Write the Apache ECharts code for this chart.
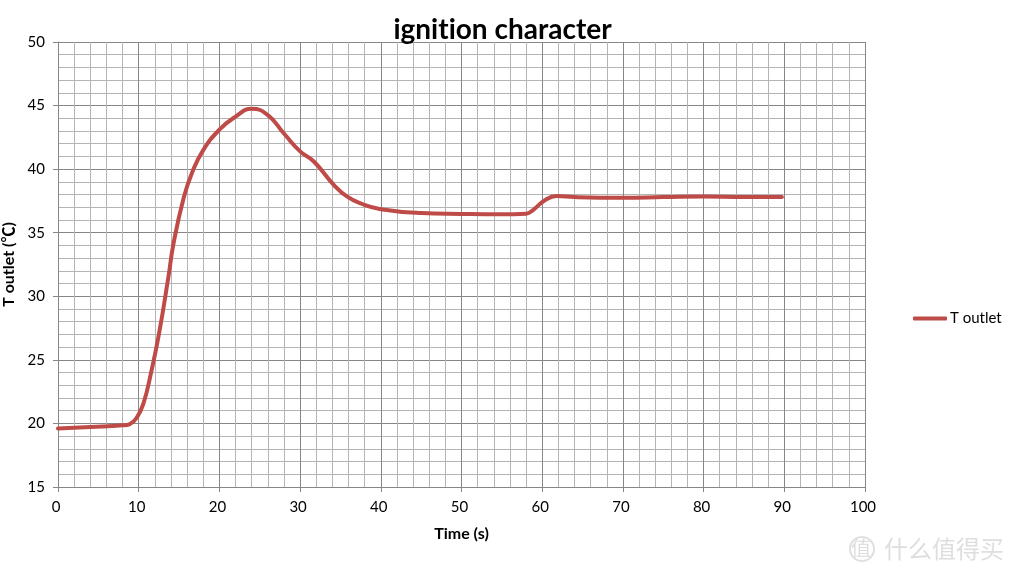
<!DOCTYPE html>
<html><head><meta charset="utf-8">
<style>html,body{margin:0;padding:0;background:#fff}#c{width:1013px;height:575px}</style>
<script src="https://cdn.jsdelivr.net/npm/echarts@6/dist/echarts.min.js"></script>
</head><body><div id="c"></div>
<script>
const seriesName = 'T outlet';
const timeValues = [0,4,8,8.9,9.8,10.6,11.5,12.5,13.7,14.3,15.6,16.6,18,20,22,24,26,28,30,31.7,34.2,35.8,37.5,40,45,50,55,58,58.9,60.2,61.8,64,70,75,80,85,89.7];
const outletValues = [19.6,19.72,19.85,19.95,20.5,21.6,23.9,27.0,31.6,34.1,37.8,39.7,41.5,43.1,44.13,44.75,44.25,42.8,41.4,40.6,38.75,37.85,37.3,36.85,36.55,36.48,36.45,36.5,36.8,37.5,37.88,37.8,37.75,37.8,37.85,37.8,37.8];
const chartTitle = 'ignition character';
const xAxisName = 'Time (s)';
const yAxisName = 'T outlet (℃)';
const watermark = '什么值得买';
const font = 'Lato';
// keep the letters separate (no "ti" ligature), as in the reference's typeface
const baseFillText = CanvasRenderingContext2D.prototype.fillText;
CanvasRenderingContext2D.prototype.fillText = function(){ this.textRendering='optimizeSpeed'; return baseFillText.apply(this,arguments); };
const chart = echarts.init(document.getElementById('c'), null, {renderer:'canvas'});
const points = timeValues.map((t,i)=>[t,outletValues[i]]);
chart.setOption({
  animation:false,
  backgroundColor:'#fff',
  title:{text:chartTitle,left:497.5,top:11,textAlign:'center',textStyle:{fontFamily:font,fontSize:28,fontWeight:'bold',color:'#000'}},
  legend:{show:true,left:908,top:306,itemWidth:34,itemHeight:4,itemGap:0,icon:'roundRect',
    textStyle:{fontFamily:font,fontSize:15,color:'#000',padding:[0,0,0,-2]},data:[seriesName]},
  grid:{left:58,right:148,top:42,bottom:88,containLabel:false,outerBoundsMode:'none'},
  xAxis:{type:'value',min:0,max:100,interval:10,name:xAxisName,nameLocation:'middle',nameGap:39,
    nameTextStyle:{fontFamily:font,fontSize:16,fontWeight:'bold',color:'#000'},
    axisLine:{show:true,onZero:false,lineStyle:{color:'#868686',width:1}},
    axisTick:{show:true,length:5,inside:false,lineStyle:{color:'#868686'}},
    axisLabel:{fontFamily:font,fontSize:15,color:'#000',margin:13,padding:[0,4,0,0],showMinLabel:true,showMaxLabel:true,hideOverlap:false},
    splitLine:{show:true,lineStyle:{color:'#868686',width:1}},
    minorTick:{show:false,splitNumber:5},
    minorSplitLine:{show:true,lineStyle:{color:'#b4b4b4',width:1}}},
  yAxis:{type:'value',min:15,max:50,interval:5,name:yAxisName,nameLocation:'middle',nameGap:41,
    nameTextStyle:{fontFamily:font+',"Noto Sans CJK SC"',fontSize:16,fontWeight:'bold',color:'#000'},
    axisLine:{show:true,onZero:false,lineStyle:{color:'#868686',width:1}},
    axisTick:{show:true,length:5,inside:false,lineStyle:{color:'#868686'}},
    axisLabel:{fontFamily:font,fontSize:15,color:'#000',margin:13,padding:[2,0,0,0],showMinLabel:true,showMaxLabel:true,hideOverlap:false},
    splitLine:{show:true,lineStyle:{color:'#868686',width:1}},
    minorTick:{show:false,splitNumber:5},
    minorSplitLine:{show:true,lineStyle:{color:'#b4b4b4',width:1}}},
  series:[{name:seriesName,type:'line',data:points,showSymbol:false,symbol:'none',smooth:0.5,
    lineStyle:{color:'#be4b48',width:4,cap:'round',join:'round'},itemStyle:{color:'#be4b48'},z:5}],
  graphic:[{type:'text',left:884,top:537,silent:true,style:{text:watermark,fontFamily:'Noto Sans CJK SC',fontSize:24,fill:'#dedede'}},
    {type:'circle',shape:{cx:862,cy:549,r:12},silent:true,style:{fill:'none',stroke:'#e0e0e0',lineWidth:2}},
    {type:'text',left:851,top:538,silent:true,style:{text:'值',fontFamily:'Noto Sans CJK SC',fontSize:20,fill:'#dedede'}}]
});
</script></body></html>
